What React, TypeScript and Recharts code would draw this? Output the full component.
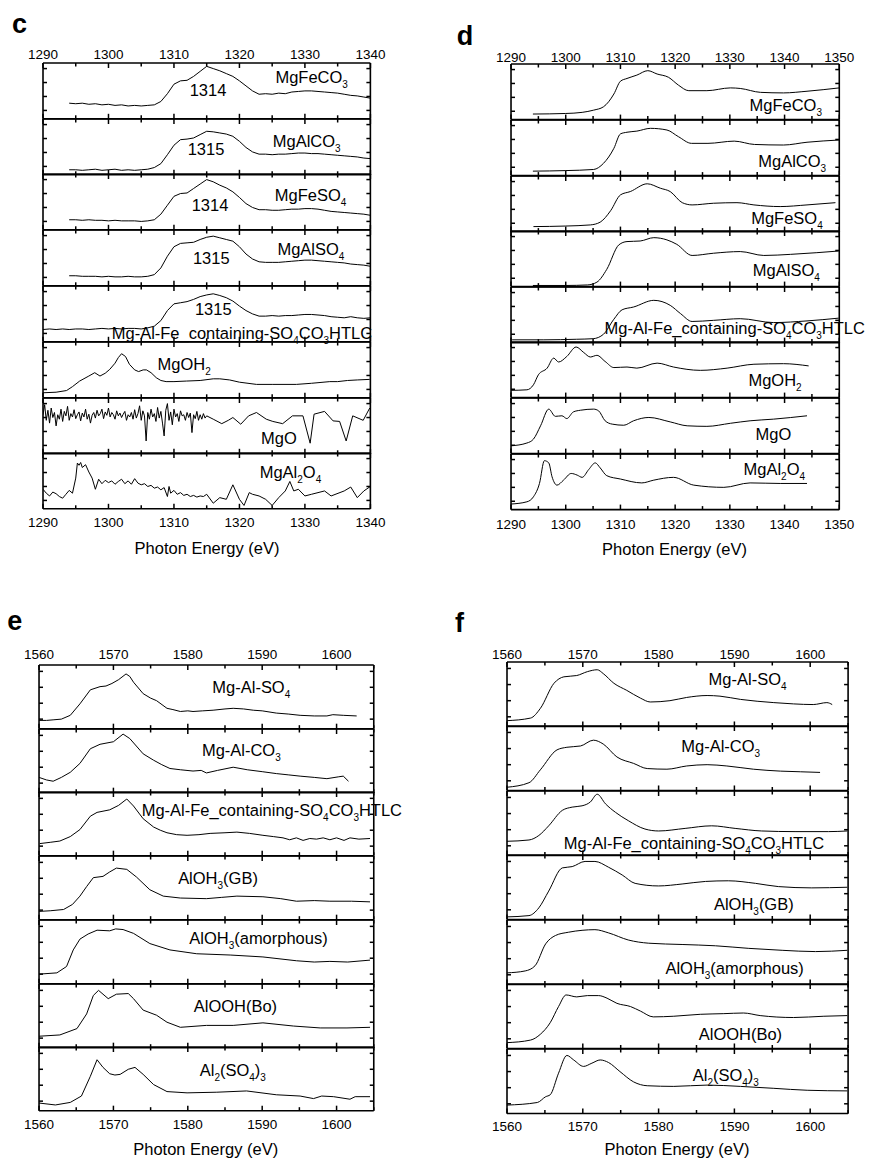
import { LineChart, Line, XAxis, YAxis, ReferenceDot } from 'recharts'

type Pt = [number, number]

const FONT = '"Liberation Sans", Arial, sans-serif'

// ---- tick values ----
const TICKS_C = [1290, 1295, 1300, 1305, 1310, 1315, 1320, 1325, 1330, 1335, 1340]
const TICKS_D = [1290, 1295, 1300, 1305, 1310, 1315, 1320, 1325, 1330, 1335, 1340, 1345, 1350]
const TICKS_EF = [1560, 1565, 1570, 1575, 1580, 1585, 1590, 1595, 1600, 1605]
const LABELS_C = [1290, 1300, 1310, 1320, 1330, 1340]
const LABELS_D = [1290, 1300, 1310, 1320, 1330, 1340, 1350]
const LABELS_EF = [1560, 1570, 1580, 1590, 1600]
const Y_TICKS = [0.15, 0.4, 0.65, 0.9]

// ---- panel c (raw Mg K-edge spectra) ----
const cMgFeCO3: Pt[] = [[1294,0.28],[1295,0.27],[1296,0.28],[1297,0.26],[1298,0.27],[1299,0.25],[1300,0.26],[1301,0.24],[1302,0.25],[1303,0.23],[1304,0.24],[1305,0.23],[1306,0.24],[1307,0.25],[1308,0.31],[1309,0.45],[1310,0.62],[1311,0.68],[1312,0.69],[1313,0.76],[1314,0.85],[1315,0.94],[1316,0.9],[1317,0.86],[1318,0.81],[1319,0.76],[1320,0.68],[1321,0.59],[1322,0.5],[1323,0.44],[1324,0.45],[1325,0.44],[1326,0.46],[1327,0.45],[1328,0.48],[1329,0.49],[1330,0.5],[1331,0.5],[1332,0.49],[1333,0.48],[1334,0.47],[1335,0.46],[1336,0.44],[1337,0.42],[1338,0.41],[1339,0.39],[1340,0.37]]
const cMgAlCO3: Pt[] = [[1294,0.09],[1295,0.09],[1296,0.08],[1297,0.09],[1298,0.1],[1299,0.08],[1300,0.09],[1301,0.1],[1302,0.08],[1303,0.09],[1304,0.08],[1305,0.09],[1306,0.1],[1307,0.13],[1308,0.2],[1309,0.36],[1310,0.53],[1311,0.63],[1312,0.64],[1313,0.66],[1314,0.72],[1315,0.78],[1316,0.77],[1317,0.75],[1318,0.73],[1319,0.69],[1320,0.6],[1321,0.49],[1322,0.41],[1323,0.37],[1324,0.37],[1325,0.36],[1326,0.37],[1327,0.37],[1328,0.38],[1329,0.39],[1330,0.39],[1331,0.38],[1332,0.38],[1333,0.37],[1334,0.36],[1335,0.35],[1336,0.34],[1337,0.33],[1338,0.32],[1339,0.3],[1340,0.29]]
const cMgFeSO4: Pt[] = [[1294,0.18],[1295,0.18],[1296,0.17],[1297,0.18],[1298,0.17],[1299,0.17],[1300,0.16],[1301,0.17],[1302,0.16],[1303,0.16],[1304,0.16],[1305,0.15],[1306,0.16],[1307,0.18],[1308,0.28],[1309,0.44],[1310,0.6],[1311,0.65],[1312,0.66],[1313,0.74],[1314,0.82],[1315,0.9],[1316,0.86],[1317,0.8],[1318,0.75],[1319,0.68],[1320,0.58],[1321,0.47],[1322,0.4],[1323,0.36],[1324,0.36],[1325,0.35],[1326,0.35],[1327,0.36],[1328,0.37],[1329,0.37],[1330,0.38],[1331,0.38],[1332,0.37],[1333,0.35],[1334,0.33],[1335,0.32],[1336,0.31],[1337,0.3],[1338,0.29],[1339,0.28],[1340,0.26]]
const cMgAlSO4: Pt[] = [[1294,0.18],[1295,0.18],[1296,0.17],[1297,0.17],[1298,0.17],[1299,0.16],[1300,0.17],[1301,0.16],[1302,0.16],[1303,0.17],[1304,0.16],[1305,0.16],[1306,0.17],[1307,0.2],[1308,0.32],[1309,0.53],[1310,0.7],[1311,0.76],[1312,0.77],[1313,0.78],[1314,0.83],[1315,0.87],[1316,0.89],[1317,0.86],[1318,0.83],[1319,0.8],[1320,0.7],[1321,0.57],[1322,0.48],[1323,0.43],[1324,0.42],[1325,0.42],[1326,0.42],[1327,0.43],[1328,0.44],[1329,0.45],[1330,0.46],[1331,0.46],[1332,0.45],[1333,0.44],[1334,0.43],[1335,0.42],[1336,0.41],[1337,0.39],[1338,0.38],[1339,0.37],[1340,0.35]]
const cHTLC: Pt[] = [[1290,0.22],[1291,0.23],[1292,0.22],[1293,0.23],[1294,0.22],[1295,0.23],[1296,0.23],[1297,0.22],[1298,0.23],[1299,0.24],[1300,0.23],[1301,0.24],[1302,0.23],[1303,0.24],[1304,0.24],[1305,0.23],[1306,0.25],[1307,0.28],[1308,0.38],[1309,0.56],[1310,0.68],[1311,0.7],[1312,0.72],[1313,0.76],[1314,0.81],[1315,0.84],[1316,0.86],[1317,0.83],[1318,0.79],[1319,0.73],[1320,0.64],[1321,0.56],[1322,0.5],[1323,0.46],[1324,0.46],[1325,0.47],[1326,0.46],[1327,0.47],[1328,0.47],[1329,0.48],[1330,0.49],[1331,0.49],[1332,0.48],[1333,0.47],[1334,0.45],[1335,0.44],[1336,0.43],[1337,0.45],[1338,0.43],[1339,0.42],[1340,0.43]]
const cMgOH2: Pt[] = [[1290,0.09],[1292,0.1],[1293.6,0.13],[1294.5,0.2],[1295.6,0.3],[1297,0.39],[1297.9,0.45],[1298.7,0.39],[1299.5,0.44],[1300.2,0.51],[1301,0.62],[1301.5,0.72],[1302,0.79],[1302.6,0.74],[1303.2,0.6],[1304,0.5],[1304.6,0.47],[1305.3,0.5],[1305.8,0.5],[1306.5,0.45],[1307.3,0.36],[1308,0.31],[1308.8,0.29],[1310,0.29],[1311.9,0.3],[1314,0.31],[1316,0.34],[1317,0.34],[1318.5,0.32],[1320,0.28],[1322.6,0.24],[1325,0.24],[1328.7,0.24],[1331,0.26],[1333.8,0.29],[1335,0.29],[1336.5,0.31],[1338,0.32],[1339.9,0.33]]
const cMgO: Pt[] = [[1290,0.7],[1290.25,0.88],[1290.5,0.6],[1290.75,0.78],[1291,0.55],[1291.25,0.82],[1291.5,0.65],[1291.75,0.74],[1292,0.5],[1292.25,0.7],[1292.5,0.62],[1292.75,0.8],[1293,0.58],[1293.25,0.76],[1293.5,0.68],[1293.75,0.85],[1294,0.6],[1294.25,0.72],[1294.5,0.66],[1294.75,0.79],[1295,0.63],[1295.25,0.7],[1295.5,0.75],[1295.75,0.59],[1296,0.73],[1296.25,0.66],[1296.5,0.8],[1296.75,0.62],[1297,0.71],[1297.25,0.55],[1297.5,0.69],[1297.75,0.74],[1298,0.64],[1298.25,0.78],[1298.5,0.68],[1298.75,0.72],[1299,0.8],[1299.25,0.63],[1299.5,0.75],[1299.75,0.69],[1300,0.82],[1300.25,0.66],[1300.5,0.74],[1300.75,0.7],[1301,0.62],[1301.25,0.77],[1301.5,0.68],[1301.75,0.73],[1302,0.65],[1302.25,0.71],[1302.5,0.76],[1302.75,0.6],[1303,0.7],[1303.25,0.66],[1303.5,0.74],[1303.75,0.62],[1304,0.79],[1304.25,0.64],[1304.5,0.72],[1304.75,0.86],[1305,0.6],[1305.25,0.77],[1305.5,0.68],[1305.75,0.23],[1306,0.74],[1306.25,0.62],[1306.5,0.8],[1306.75,0.66],[1307,0.72],[1307.25,0.58],[1307.5,0.83],[1307.75,0.64],[1308,0.76],[1308.25,0.55],[1308.5,0.32],[1308.75,0.78],[1309,0.9],[1309.25,0.6],[1309.5,0.75],[1309.75,0.52],[1310,0.8],[1310.25,0.66],[1310.5,0.72],[1310.75,0.58],[1311,0.77],[1311.25,0.68],[1311.5,0.7],[1311.75,0.6],[1312,0.74],[1312.25,0.65],[1312.5,0.73],[1312.75,0.38],[1313,0.7],[1313.25,0.63],[1313.5,0.76],[1313.75,0.6],[1314,0.7],[1314.25,0.62],[1314.5,0.72],[1314.75,0.64],[1315,0.68],[1316,0.62],[1317.3,0.54],[1318.3,0.6],[1319,0.65],[1320.2,0.53],[1321.4,0.68],[1322.6,0.74],[1324.1,0.62],[1325.1,0.58],[1326.6,0.54],[1328.1,0.68],[1329.7,0.68],[1330.8,0.19],[1331.4,0.71],[1333,0.76],[1334.3,0.59],[1335.3,0.58],[1336.3,0.23],[1337.3,0.68],[1338.9,0.6],[1339.9,0.82]]
const cMgAl2O4: Pt[] = [[1290,0.35],[1290.5,0.28],[1291,0.23],[1291.5,0.3],[1292,0.27],[1292.5,0.22],[1293,0.19],[1293.5,0.26],[1294,0.33],[1294.5,0.28],[1295,0.55],[1295.25,0.82],[1295.5,0.78],[1295.75,0.83],[1296,0.74],[1296.5,0.79],[1297,0.66],[1297.5,0.55],[1298,0.35],[1298.5,0.53],[1299,0.45],[1299.5,0.51],[1300,0.47],[1300.5,0.5],[1301,0.44],[1301.5,0.49],[1302,0.53],[1302.5,0.45],[1303,0.5],[1303.5,0.44],[1304,0.54],[1304.5,0.46],[1305,0.43],[1305.5,0.45],[1306,0.4],[1306.5,0.42],[1307,0.37],[1307.5,0.39],[1308,0.34],[1308.5,0.38],[1309,0.22],[1309.25,0.4],[1309.5,0.28],[1310,0.33],[1310.5,0.26],[1311,0.29],[1311.5,0.24],[1312,0.26],[1312.5,0.22],[1313,0.24],[1313.5,0.21],[1314,0.23],[1314.5,0.22],[1315,0.26],[1316,0.1],[1317,0.2],[1318,0.17],[1319,0.43],[1320,0.17],[1320.7,0.06],[1321.5,0.29],[1322,0.26],[1323,0.23],[1324,0.17],[1325,0.06],[1326,0.2],[1327,0.32],[1327.7,0.49],[1328.3,0.32],[1329,0.35],[1330,0.23],[1331,0.26],[1332,0.29],[1333,0.32],[1334,0.23],[1336,0.32],[1337,0.39],[1338,0.2],[1339,0.32],[1340,0.4]]

// ---- panel d (smoothed Mg spectra) ----
const dMgFeCO3: Pt[] = [[1294,0.1],[1300,0.11],[1303,0.13],[1305.1,0.17],[1306.9,0.23],[1308.8,0.46],[1310,0.69],[1311.2,0.74],[1313,0.8],[1315,0.88],[1316.7,0.82],[1318.8,0.76],[1320.6,0.62],[1322.5,0.52],[1325.8,0.52],[1330.1,0.57],[1331.9,0.56],[1335.6,0.49],[1339.8,0.48],[1344.1,0.51],[1350,0.57]]
const dMgAlCO3: Pt[] = [[1294,0.08],[1300,0.09],[1305.1,0.11],[1306.9,0.22],[1308.8,0.49],[1310,0.75],[1311.2,0.78],[1313,0.8],[1315.5,0.85],[1318.5,0.82],[1320.6,0.7],[1323,0.58],[1326,0.58],[1330.8,0.62],[1334.5,0.56],[1339.8,0.55],[1344.1,0.6],[1350,0.64]]
const dMgFeSO4: Pt[] = [[1294.1,0.09],[1300,0.1],[1304.5,0.12],[1306.3,0.17],[1308.2,0.375],[1310,0.66],[1311.8,0.72],[1314.9,0.86],[1317.3,0.78],[1319.1,0.72],[1321.3,0.52],[1323.1,0.48],[1327,0.51],[1331.3,0.52],[1334.4,0.48],[1339.2,0.45],[1344.1,0.48],[1349.3,0.52]]
const dMgAlSO4: Pt[] = [[1294,0.02],[1300,0.02],[1304,0.03],[1305.7,0.08],[1307.5,0.31],[1309.7,0.75],[1311.2,0.81],[1313.6,0.82],[1316.1,0.88],[1318.5,0.84],[1320.3,0.76],[1323.1,0.56],[1327,0.6],[1331.9,0.63],[1336.2,0.56],[1341.1,0.58],[1345.9,0.61],[1349.9,0.64]]
const dHTLC: Pt[] = [[1290.2,0.05],[1296,0.05],[1302,0.06],[1305,0.07],[1306.9,0.15],[1308.8,0.42],[1310.3,0.59],[1312.4,0.64],[1316.1,0.76],[1319.1,0.67],[1321,0.52],[1323.1,0.38],[1327,0.4],[1331.9,0.43],[1338,0.36],[1344.1,0.39],[1349.9,0.44]]
const dMgOH2: Pt[] = [[1290,0.13],[1292.9,0.14],[1294.1,0.23],[1295,0.41],[1296.6,0.53],[1297.8,0.71],[1298.7,0.64],[1300.2,0.74],[1301.9,0.91],[1303.3,0.81],[1304.5,0.73],[1305.7,0.76],[1307.2,0.65],[1308.8,0.54],[1311.2,0.55],[1313,0.53],[1316.7,0.62],[1319.7,0.55],[1324.6,0.49],[1329.5,0.53],[1334.4,0.6],[1339.8,0.61],[1344.4,0.57]]
const dMgO: Pt[] = [[1290,0.14],[1292.9,0.19],[1294.1,0.26],[1295.4,0.5],[1296.9,0.8],[1298.1,0.67],[1299.3,0.68],[1300.2,0.63],[1301.4,0.75],[1302.7,0.78],[1305.1,0.8],[1306,0.77],[1307.2,0.59],[1308.5,0.53],[1310.6,0.51],[1312.4,0.59],[1315.2,0.65],[1319.1,0.57],[1322.2,0.5],[1325.8,0.49],[1330.1,0.545],[1333.7,0.59],[1338,0.62],[1344.1,0.68]]
const dMgAl2O4: Pt[] = [[1290,0.1],[1292.9,0.14],[1294.1,0.23],[1295.2,0.47],[1296.1,0.88],[1296.9,0.84],[1297.5,0.59],[1298.4,0.44],[1299.6,0.53],[1301,0.65],[1302.1,0.62],[1303,0.58],[1304.2,0.72],[1305.4,0.84],[1306.3,0.75],[1307.5,0.61],[1310,0.55],[1313.9,0.48],[1316.1,0.53],[1319.7,0.58],[1323.4,0.44],[1328.9,0.4],[1333.7,0.48],[1339.2,0.47],[1344.1,0.47]]

// ---- panel e (raw Al K-edge spectra) ----
const eMgAlSO4: Pt[] = [[1560,0.13],[1561,0.13],[1562,0.14],[1563,0.15],[1564.2,0.21],[1565.5,0.39],[1566.9,0.61],[1568.2,0.66],[1569,0.67],[1569.8,0.71],[1570.7,0.77],[1571.7,0.86],[1572.2,0.82],[1572.7,0.73],[1574,0.55],[1575,0.48],[1575.8,0.44],[1577.2,0.32],[1578,0.3],[1579,0.27],[1580,0.28],[1580.7,0.27],[1582,0.28],[1583.4,0.29],[1585,0.31],[1586.1,0.32],[1587.5,0.31],[1588.8,0.29],[1590,0.28],[1591.9,0.245],[1593.5,0.23],[1595.1,0.21],[1597,0.2],[1598.7,0.2],[1599.5,0.22],[1600.9,0.21],[1602.7,0.2]]
const eMgAlCO3: Pt[] = [[1560,0.24],[1561,0.2],[1561.9,0.18],[1563,0.24],[1564.2,0.32],[1565.5,0.46],[1566.9,0.69],[1568.2,0.76],[1570,0.8],[1571.3,0.92],[1572.2,0.85],[1574,0.61],[1575.4,0.51],[1576.5,0.44],[1577.6,0.38],[1579,0.36],[1580.7,0.34],[1581.8,0.35],[1582.5,0.31],[1584,0.35],[1586.1,0.4],[1588,0.36],[1590,0.33],[1591.9,0.3],[1593.5,0.28],[1595.1,0.26],[1597,0.24],[1598.7,0.22],[1600.3,0.25],[1600.9,0.26],[1601.6,0.18]]
const eHTLC: Pt[] = [[1560.1,0.19],[1561.5,0.21],[1562.8,0.23],[1564.2,0.3],[1565.5,0.41],[1566.9,0.62],[1567.8,0.68],[1569.5,0.72],[1570.7,0.79],[1571.8,0.89],[1572.7,0.78],[1574,0.58],[1575.4,0.45],[1576.3,0.4],[1577.2,0.36],[1578.5,0.33],[1579.9,0.32],[1581.5,0.33],[1583,0.35],[1585,0.36],[1586.6,0.37],[1588.3,0.35],[1590.1,0.32],[1591.5,0.3],[1592.8,0.28],[1593.7,0.25],[1594.6,0.28],[1595.5,0.24],[1596.4,0.27],[1597.3,0.26],[1598.2,0.28],[1599.1,0.25],[1600,0.28],[1601,0.24],[1601.8,0.28],[1603,0.26],[1604.5,0.27]]
const eAlOH3GB: Pt[] = [[1560,0.13],[1561.5,0.14],[1563.3,0.16],[1564.5,0.24],[1565.5,0.37],[1566.4,0.52],[1567.3,0.66],[1568.6,0.68],[1569.5,0.75],[1570.4,0.81],[1571.8,0.79],[1573.1,0.67],[1574.9,0.47],[1576.7,0.37],[1579,0.34],[1582.5,0.33],[1584.5,0.35],[1586.6,0.37],[1590.1,0.36],[1592.5,0.33],[1594.6,0.29],[1597,0.3],[1599.1,0.29],[1602,0.29],[1604.5,0.28]]
const eAlOH3am: Pt[] = [[1560,0.15],[1562.4,0.17],[1563.7,0.27],[1564.6,0.53],[1565.5,0.7],[1566.6,0.78],[1567.8,0.84],[1569.5,0.83],[1570.3,0.86],[1571.3,0.85],[1572.7,0.79],[1574.9,0.63],[1577.6,0.53],[1581.2,0.47],[1585.7,0.45],[1590.1,0.42],[1594.6,0.36],[1597,0.34],[1599.1,0.35],[1601.5,0.34],[1604.5,0.37]]
const eAlOOH: Pt[] = [[1560,0.18],[1562.8,0.2],[1565.1,0.3],[1566.4,0.53],[1567.3,0.82],[1568,0.9],[1568.6,0.84],[1569.3,0.77],[1570.4,0.84],[1572,0.85],[1572.7,0.77],[1574,0.59],[1575.8,0.51],[1577.2,0.4],[1579,0.32],[1582.5,0.35],[1586.1,0.35],[1590.1,0.39],[1594.2,0.34],[1597.8,0.31],[1601.4,0.31],[1604.5,0.32]]
const eAl2SO43: Pt[] = [[1560,0.12],[1562.2,0.09],[1564.2,0.13],[1565.7,0.23],[1566.9,0.54],[1567.8,0.8],[1568.6,0.68],[1569.5,0.58],[1570.2,0.56],[1570.9,0.57],[1572,0.65],[1572.9,0.68],[1574,0.57],[1575.4,0.41],[1577.2,0.3],[1579.9,0.28],[1583.9,0.29],[1587.9,0.31],[1591.9,0.25],[1595.1,0.23],[1596.9,0.19],[1598,0.23],[1599.6,0.22],[1601.8,0.18],[1602.5,0.22],[1604.5,0.22]]

// ---- panel f (smoothed Al spectra) ----
const fMgAlSO4: Pt[] = [[1560,0.09],[1563.1,0.13],[1564.4,0.28],[1566.2,0.67],[1567.5,0.77],[1569.2,0.79],[1570.6,0.85],[1571.9,0.88],[1572.7,0.82],[1574.1,0.67],[1575.8,0.56],[1577.6,0.44],[1578.9,0.38],[1581.5,0.4],[1583.7,0.45],[1586.4,0.48],[1588.1,0.47],[1590.8,0.42],[1595.2,0.37],[1597.8,0.35],[1600.4,0.34],[1602.2,0.37],[1602.9,0.34]]
const fMgAlCO3: Pt[] = [[1560,0.05],[1562.9,0.12],[1564.4,0.32],[1566.6,0.63],[1567.9,0.67],[1569.7,0.69],[1571.4,0.78],[1572.7,0.72],[1574.5,0.52],[1576.7,0.42],[1578.5,0.34],[1581.1,0.33],[1583.7,0.38],[1586.4,0.4],[1589,0.38],[1592.5,0.33],[1596.1,0.3],[1598.7,0.29],[1601.3,0.28]]
const fHTLC: Pt[] = [[1560,0.22],[1562.9,0.24],[1564.2,0.31],[1565.5,0.46],[1567.3,0.7],[1568.6,0.75],[1569.9,0.77],[1571,0.83],[1571.9,0.95],[1573,0.8],[1574.3,0.67],[1576,0.54],[1578.2,0.41],[1580,0.38],[1583.5,0.42],[1587,0.46],[1590.1,0.42],[1593.6,0.38],[1598,0.37],[1602.4,0.37],[1604.9,0.38]]
const fAlOH3GB: Pt[] = [[1560,0.04],[1562.9,0.06],[1564.2,0.18],[1565.5,0.44],[1567.3,0.8],[1568.6,0.82],[1570.3,0.9],[1571.6,0.9],[1573.4,0.81],[1575.2,0.69],[1576.9,0.56],[1580,0.52],[1583.1,0.55],[1586.2,0.59],[1589.2,0.6],[1592.8,0.56],[1595.8,0.51],[1600.2,0.49],[1604.9,0.5]]
const fAlOH3am: Pt[] = [[1560,0.18],[1562.4,0.21],[1563.7,0.29],[1565.1,0.63],[1566.4,0.76],[1568.1,0.81],[1569.9,0.84],[1571.6,0.85],[1573.4,0.8],[1576,0.69],[1578.7,0.64],[1583.1,0.62],[1587.5,0.6],[1591.9,0.56],[1596.3,0.53],[1600.7,0.51],[1604.9,0.53]]
const fAlOOH: Pt[] = [[1560,0.09],[1563.1,0.13],[1564.4,0.22],[1565.7,0.4],[1566.8,0.65],[1567.8,0.83],[1569.2,0.8],[1570.6,0.82],[1572.1,0.82],[1573.2,0.78],[1574.5,0.7],[1576.3,0.65],[1577.6,0.58],[1579.3,0.49],[1582,0.5],[1585.5,0.53],[1588.6,0.54],[1591.2,0.55],[1593.4,0.51],[1597.8,0.48],[1601.8,0.5],[1604.9,0.51]]
const fAl2SO43: Pt[] = [[1560,0.13],[1564,0.17],[1565.1,0.26],[1565.7,0.29],[1566.8,0.625],[1567.9,0.9],[1568.8,0.83],[1570.1,0.73],[1571.2,0.78],[1572.3,0.83],[1573.4,0.79],[1574.9,0.65],[1576.7,0.49],[1578.5,0.43],[1582,0.42],[1586.4,0.44],[1590.8,0.42],[1595.2,0.39],[1599.6,0.36],[1604.9,0.35]]

// label text uses {..} for subscripts; `at` is the data coord where the text starts
interface Row {
  pts: Pt[]
  label: string
  at: Pt
  peak?: string
  peakAt?: Pt
}

interface Panel {
  letter: string
  letterAt: Pt
  left: number
  top: number
  width: number
  rowH: number
  domain: [number, number]
  ticks: number[]
  labels: number[]
  smooth: boolean
  topGap: number
  bottomGap: number
  titleX: number
  titleY: number
  rows: Row[]
}

const HTLC = 'Mg-Al-Fe_containing-SO{4}CO{3}HTLC'

const PANELS: Panel[] = [
  {
    letter: 'c', letterAt: [12, 33],
    left: 43.3, top: 62.7, width: 327.4, rowH: 55.8, domain: [1290, 1340],
    ticks: TICKS_C, labels: LABELS_C,
    smooth: false, topGap: 4.4, bottomGap: 19, titleX: 207, titleY: 554,
    rows: [
      { pts: cMgFeCO3, label: 'MgFeCO{3}', at: [1325.5, 0.64], peak: '1314', peakAt: [1312.4, 0.41] },
      { pts: cMgAlCO3, label: 'MgAlCO{3}', at: [1325.1, 0.49], peak: '1315', peakAt: [1312.1, 0.35] },
      { pts: cMgFeSO4, label: 'MgFeSO{4}', at: [1325.4, 0.51], peak: '1314', peakAt: [1312.7, 0.33] },
      { pts: cMgAlSO4, label: 'MgAlSO{4}', at: [1325.8, 0.56], peak: '1315', peakAt: [1312.9, 0.39] },
      { pts: cHTLC, label: HTLC, at: [1300.5, 0.05], peak: '1315', peakAt: [1313.2, 0.48] },
      { pts: cMgOH2, label: 'MgOH{2}', at: [1307.5, 0.49] },
      { pts: cMgO, label: 'MgO', at: [1323.3, 0.18] },
      { pts: cMgAl2O4, label: 'MgAl{2}O{4}', at: [1323.1, 0.56] },
    ],
  },
  {
    letter: 'd', letterAt: [456.7, 45],
    left: 510.7, top: 64.3, width: 328.3, rowH: 55.6, domain: [1290, 1350],
    ticks: TICKS_D, labels: LABELS_D,
    smooth: true, topGap: 2.6, bottomGap: 20, titleX: 674.5, titleY: 555,
    rows: [
      { pts: dMgFeCO3, label: 'MgFeCO{3}', at: [1333.6, 0.16] },
      { pts: dMgAlCO3, label: 'MgAlCO{3}', at: [1335.2, 0.16] },
      { pts: dMgFeSO4, label: 'MgFeSO{4}', at: [1333.9, 0.14] },
      { pts: dMgAlSO4, label: 'MgAlSO{4}', at: [1334.2, 0.19] },
      { pts: dHTLC, label: HTLC, at: [1307.1, 0.16] },
      { pts: dMgOH2, label: 'MgOH{2}', at: [1333.4, 0.21] },
      { pts: dMgO, label: 'MgO', at: [1334.7, 0.24] },
      { pts: dMgAl2O4, label: 'MgAl{2}O{4}', at: [1332.5, 0.63] },
    ],
  },
  {
    letter: 'e', letterAt: [7.3, 630],
    left: 39, top: 665, width: 334.8, rowH: 63.7, domain: [1560, 1605],
    ticks: TICKS_EF, labels: LABELS_EF,
    smooth: false, topGap: 6.7, bottomGap: 18.5, titleX: 205.7, titleY: 1155,
    rows: [
      { pts: eMgAlSO4, label: 'Mg-Al-SO{4}', at: [1583.3, 0.56] },
      { pts: eMgAlCO3, label: 'Mg-Al-CO{3}', at: [1581.9, 0.58] },
      { pts: eHTLC, label: HTLC, at: [1573.8, 0.62] },
      { pts: eAlOH3GB, label: 'AlOH{3}(GB)', at: [1578.7, 0.56] },
      { pts: eAlOH3am, label: 'AlOH{3}(amorphous)', at: [1580.2, 0.63] },
      { pts: eAlOOH, label: 'AlOOH(Bo)', at: [1580.8, 0.56] },
      { pts: eAl2SO43, label: 'Al{2}(SO{4}){3}', at: [1581.6, 0.54] },
    ],
  },
  {
    letter: 'f', letterAt: [455, 631.7],
    left: 506.7, top: 661.7, width: 341.1, rowH: 64.47, domain: [1560, 1605],
    ticks: TICKS_EF, labels: LABELS_EF,
    smooth: true, topGap: 3.7, bottomGap: 18, titleX: 677, titleY: 1155,
    rows: [
      { pts: fMgAlSO4, label: 'Mg-Al-SO{4}', at: [1586.6, 0.64] },
      { pts: fMgAlCO3, label: 'Mg-Al-CO{3}', at: [1583, 0.59] },
      { pts: fHTLC, label: HTLC, at: [1567.5, 0.105] },
      { pts: fAlOH3GB, label: 'AlOH{3}(GB)', at: [1587.3, 0.14] },
      { pts: fAlOH3am, label: 'AlOH{3}(amorphous)', at: [1580.9, 0.155] },
      { pts: fAlOOH, label: 'AlOOH(Bo)', at: [1585.3, 0.13] },
      { pts: fAl2SO43, label: 'Al{2}(SO{4}){3}', at: [1584.5, 0.51] },
    ],
  },
]

const AXIS_LINE = { stroke: '#000', strokeWidth: 1.6 }
const TICK_W = 1.5
const MAJOR_LEN = 5
const MINOR_LEN = 3.5
const Y_LEN = 4

function RichText({ x, y, text, size = 16.5 }: { x: number; y: number; text: string; size?: number }) {
  const parts = text.split(/(\{[^}]*\})/).filter(Boolean)
  let down = false
  return (
    <text x={x} y={y} fontSize={size} fontFamily={FONT} fill="#000">
      {parts.map((p, i) => {
        const sub = p.startsWith('{')
        const dy = sub ? (down ? 0 : 5) : (down ? -5 : 0)
        down = sub
        return (
          <tspan key={i} dy={dy} fontSize={sub ? 10 : size}>
            {sub ? p.slice(1, -1) : p}
          </tspan>
        )
      })}
    </text>
  )
}

// mirrored axes take no room; each tick anchor sits on the frame edge
function xTick(side: 'top' | 'bottom') {
  return (props: any) => {
    const x = Number(props.x)
    const y = Number(props.y)
    const v = Number(props.payload.value)
    const len = v % 10 === 0 ? MAJOR_LEN : MINOR_LEN
    const y2 = side === 'bottom' ? y - len : y + len
    return <path d={`M${x},${y}L${x},${y2}`} stroke="#000" strokeWidth={TICK_W} fill="none" />
  }
}

function xLabel(side: 'top' | 'bottom', gap: number) {
  return (props: any) => {
    const x = Number(props.x)
    const y = Number(props.y)
    return (
      <text x={x} y={side === 'bottom' ? y + gap : y - gap} textAnchor="middle"
        fontSize={13.5} fontFamily={FONT} fill="#000">
        {props.payload.value}
      </text>
    )
  }
}

function yTick(side: 'left' | 'right') {
  return (props: any) => {
    const x = Number(props.x)
    const y = Number(props.y)
    const x2 = side === 'left' ? x + Y_LEN : x - Y_LEN
    return <path d={`M${x},${y}L${x2},${y}`} stroke="#000" strokeWidth={TICK_W} fill="none" />
  }
}

function RowChart({ panel, row, index }: { panel: Panel; row: Row; index: number }) {
  const first = index === 0
  const last = index === panel.rows.length - 1
  const data = row.pts.map(([e, v]) => ({ e, v }))
  const base = {
    dataKey: 'e', type: 'number' as const, domain: panel.domain, interval: 0 as const,
    mirror: true, height: 0.5, tickSize: 0, tickMargin: 0, tickLine: false, allowDataOverflow: true,
  }
  return (
    <div style={{ position: 'absolute', left: panel.left, top: panel.top + index * panel.rowH }}>
      <LineChart width={panel.width} height={panel.rowH} data={data}
        margin={{ top: 0, right: 0, bottom: 0, left: 0 }}>
        <XAxis xAxisId="b" {...base} ticks={panel.ticks} axisLine={AXIS_LINE} tick={xTick('bottom')} />
        <XAxis xAxisId="t" orientation="top" {...base} ticks={panel.ticks} axisLine={AXIS_LINE}
          tick={xTick('top')} />
        {last && (
          <XAxis xAxisId="bl" {...base} ticks={panel.labels} axisLine={false}
            tick={xLabel('bottom', panel.bottomGap)} />
        )}
        {first && (
          <XAxis xAxisId="tl" orientation="top" {...base} ticks={panel.labels} axisLine={false}
            tick={xLabel('top', panel.topGap)} />
        )}
        <YAxis yAxisId="l" type="number" domain={[0, 1]} ticks={Y_TICKS} interval={0} mirror
          width={0.5} tickSize={0} tickMargin={0} tickLine={false} axisLine={AXIS_LINE}
          allowDataOverflow tick={yTick('left')} />
        <YAxis yAxisId="r" orientation="right" type="number" domain={[0, 1]} ticks={Y_TICKS}
          interval={0} mirror width={0.5} tickSize={0} tickMargin={0} tickLine={false}
          axisLine={AXIS_LINE} allowDataOverflow tick={yTick('right')} />
        <Line xAxisId="b" yAxisId="l" dataKey="v" type={panel.smooth ? 'monotone' : 'linear'}
          stroke="#000" strokeWidth={1} dot={false} activeDot={false} isAnimationActive={false} />
        <ReferenceDot xAxisId="b" yAxisId="l" x={row.at[0]} y={row.at[1]} r={0} ifOverflow="visible"
          shape={(p: any) => <RichText x={p.cx} y={p.cy} text={row.label} />} />
        {row.peak && row.peakAt && (
          <ReferenceDot xAxisId="b" yAxisId="l" x={row.peakAt[0]} y={row.peakAt[1]} r={0}
            ifOverflow="visible"
            shape={(p: any) => <RichText x={p.cx} y={p.cy} text={row.peak as string} />} />
        )}
      </LineChart>
    </div>
  )
}

export default function App() {
  return (
    <div style={{ position: 'absolute', left: 0, top: 0, width: 885, height: 1164, background: '#fff' }}>
      <style>{'.recharts-surface{overflow:visible}.recharts-wrapper{overflow:visible}'}</style>
      {PANELS.map(panel =>
        panel.rows.map((row, i) => (
          <RowChart key={panel.letter + i} panel={panel} row={row} index={i} />
        ))
      )}
      <svg width={885} height={1164} style={{ position: 'absolute', left: 0, top: 0, pointerEvents: 'none' }}>
        {PANELS.map(panel => (
          <g key={panel.letter}>
            <text x={panel.letterAt[0]} y={panel.letterAt[1]} fontSize={27} fontWeight="bold"
              fontFamily={FONT} fill="#000">
              {panel.letter}
            </text>
            <text x={panel.titleX} y={panel.titleY} textAnchor="middle" fontSize={16.5}
              fontFamily={FONT} fill="#000">
              Photon Energy (eV)
            </text>
          </g>
        ))}
      </svg>
    </div>
  )
}
